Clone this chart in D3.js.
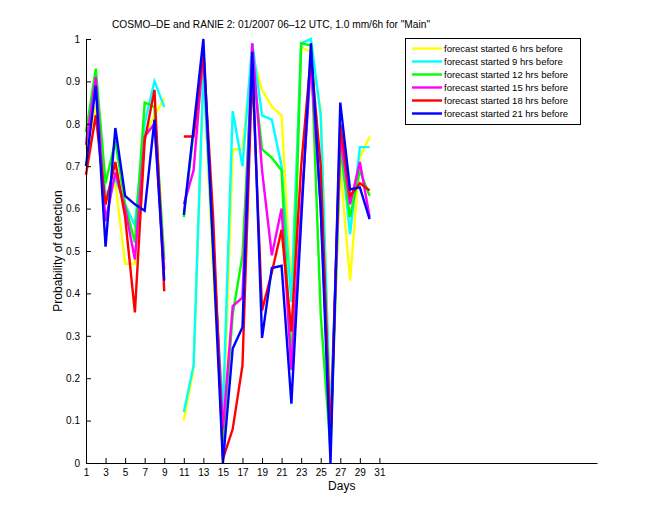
<!DOCTYPE html>
<html>
<head>
<meta charset="utf-8">
<script src="https://cdn.jsdelivr.net/npm/d3@7"></script>
<style>
  html, body { margin: 0; padding: 0; background: #fff; }
  svg { display: block; font-family: "Liberation Sans", Arial, Helvetica, sans-serif; }
</style>
</head>
<body>
<svg id="chart" width="660" height="520"></svg>
<script>
// ---------- data ----------
const days = d3.range(1, 31);
const xTickValues = d3.range(1, 32, 2);
const yTickValues = [0, 0.1, 0.2, 0.3, 0.4, 0.5, 0.6, 0.7, 0.8, 0.9, 1];
const seriesNames = [
  "forecast started 6 hrs before",
  "forecast started 9 hrs before",
  "forecast started 12 hrs before",
  "forecast started 15 hrs before",
  "forecast started 18 hrs before",
  "forecast started 21 hrs before"
];
const seriesColors = ["#ffff00", "#00ffff", "#00ff00", "#ff00ff", "#ff0000", "#0000ff"];

const pod06 = [0.74, 0.84, 0.63, 0.66, 0.47, 0.47, 0.77, 0.82, 0.86, null,
               0.10, 0.22, 0.93, 0.45, 0.05, 0.74, 0.74, 0.96, 0.88, 0.84,
               0.82, 0.40, 0.98, 0.97, 0.83, 0.07, 0.70, 0.43, 0.72, 0.77];
const pod09 = [0.76, 0.90, 0.63, 0.67, 0.61, 0.56, 0.80, 0.90, 0.84, null,
               0.12, 0.23, 0.92, 0.50, 0.12, 0.83, 0.70, 0.99, 0.82, 0.81,
               0.70, 0.38, 0.99, 1.00, 0.82, 0.10, 0.76, 0.54, 0.745, 0.745];
const pod12 = [0.78, 0.93, 0.66, 0.76, 0.61, 0.52, 0.85, 0.84, 0.48, null,
               0.58, 0.78, 0.96, 0.52, 0.05, 0.35, 0.49, 0.95, 0.74, 0.72,
               0.69, 0.22, 0.99, 0.985, 0.35, 0.03, 0.74, 0.58, 0.69, 0.63];
const pod15 = [0.75, 0.91, 0.57, 0.685, 0.60, 0.48, 0.77, 0.80, 0.456, null,
               0.61, 0.69, 0.97, 0.52, 0.08, 0.37, 0.39, 0.99, 0.69, 0.49,
               0.60, 0.22, 0.60, 0.94, 0.60, 0.06, 0.77, 0.61, 0.71, 0.58];
const pod18 = [0.68, 0.82, 0.61, 0.71, 0.58, 0.355, 0.76, 0.88, 0.405, null,
               0.77, 0.77, 0.97, 0.58, 0.01, 0.08, 0.23, 0.93, 0.36, 0.45,
               0.55, 0.31, 0.70, 0.96, 0.70, 0.05, 0.80, 0.63, 0.66, 0.643];
const pod21 = [0.70, 0.89, 0.51, 0.79, 0.63, 0.61, 0.595, 0.81, 0.43, null,
               0.585, 0.79, 1.00, 0.50, 0.00, 0.27, 0.32, 0.97, 0.295, 0.46,
               0.465, 0.14, 0.57, 0.99, 0.60, 0.00, 0.85, 0.645, 0.65, 0.575];
const allSeries = [pod06, pod09, pod12, pod15, pod18, pod21];

// ---------- layout ----------
const svg = d3.select("#chart");
const plotLeft = 86, plotRight = 597.5, plotTop = 39, plotBottom = 463;

const x = d3.scaleLinear().domain([1, 53.3]).range([plotLeft, plotRight]);
const y = d3.scaleLinear().domain([0, 1]).range([plotBottom, plotTop]);

svg.append("rect").attr("width", 660).attr("height", 520).attr("fill", "#fff");

// ---------- lines ----------
const line = d3.line()
  .defined(d => d.v !== null)
  .x(d => x(d.day))
  .y(d => y(d.v));

const gLines = svg.append("g");
allSeries.forEach((vals, i) => {
  const pts = days.map((d, j) => ({ day: d, v: vals[j] }));
  gLines.append("path")
    .datum(pts)
    .attr("d", line)
    .attr("fill", "none")
    .attr("stroke", seriesColors[i])
    .attr("stroke-width", 2.4)
    .attr("stroke-linejoin", "miter");
});

// ---------- axes ----------
const xAxis = d3.axisBottom(x).tickValues(xTickValues).tickSize(-5).tickPadding(6)
  .tickFormat(d3.format("d"));
const gx = svg.append("g").attr("transform", `translate(0,${plotBottom})`).call(xAxis);
gx.select(".domain").attr("d", `M${plotLeft},0.5H${plotRight}`).attr("stroke", "#000");
gx.selectAll(".tick line").attr("stroke", "#000");
gx.selectAll(".tick text").attr("font-size", 10).attr("fill", "#000")
  .attr("font-family", "Liberation Sans, Arial, sans-serif");

const yAxis = d3.axisLeft(y).tickValues(yTickValues).tickSize(-5).tickPadding(6)
  .tickFormat(d => d === 0 ? "0" : d === 1 ? "1" : d3.format(".1f")(d));
const gy = svg.append("g").attr("transform", `translate(${plotLeft},0)`).call(yAxis);
gy.select(".domain").attr("d", `M0.5,${plotTop}V${plotBottom}`).attr("stroke", "#000");
gy.selectAll(".tick line").attr("stroke", "#000");
gy.selectAll(".tick text").attr("font-size", 10).attr("fill", "#000")
  .attr("font-family", "Liberation Sans, Arial, sans-serif");

// ---------- labels ----------
svg.append("text")
  .attr("x", 271).attr("y", 28)
  .attr("text-anchor", "middle")
  .attr("font-size", 11.5)
  .attr("textLength", 318)
  .attr("lengthAdjust", "spacingAndGlyphs")
  .text("COSMO\u2013DE and RANIE 2: 01/2007 06\u201312 UTC, 1.0 mm/6h for \"Main\"");

svg.append("text")
  .attr("x", (plotLeft + plotRight) / 2).attr("y", 490)
  .attr("text-anchor", "middle")
  .attr("font-size", 12)
  .text("Days");

svg.append("text")
  .attr("transform", `translate(62,${(plotTop + plotBottom) / 2}) rotate(-90)`)
  .attr("text-anchor", "middle")
  .attr("font-size", 12)
  .text("Probability of detection");

// ---------- legend ----------
const lg = svg.append("g");
lg.append("rect")
  .attr("x", 405.5).attr("y", 38.5).attr("width", 175).attr("height", 86)
  .attr("fill", "#fff").attr("stroke", "#000").attr("stroke-width", 1);
seriesNames.forEach((name, i) => {
  const yy = 48.5 + i * 13;
  lg.append("line")
    .attr("x1", 412).attr("x2", 442).attr("y1", yy).attr("y2", yy)
    .attr("stroke", seriesColors[i]).attr("stroke-width", 2.4);
  lg.append("text")
    .attr("x", 444).attr("y", yy + 3.5)
    .attr("font-size", 9.5)
    .text(name);
});
</script>
</body>
</html>
